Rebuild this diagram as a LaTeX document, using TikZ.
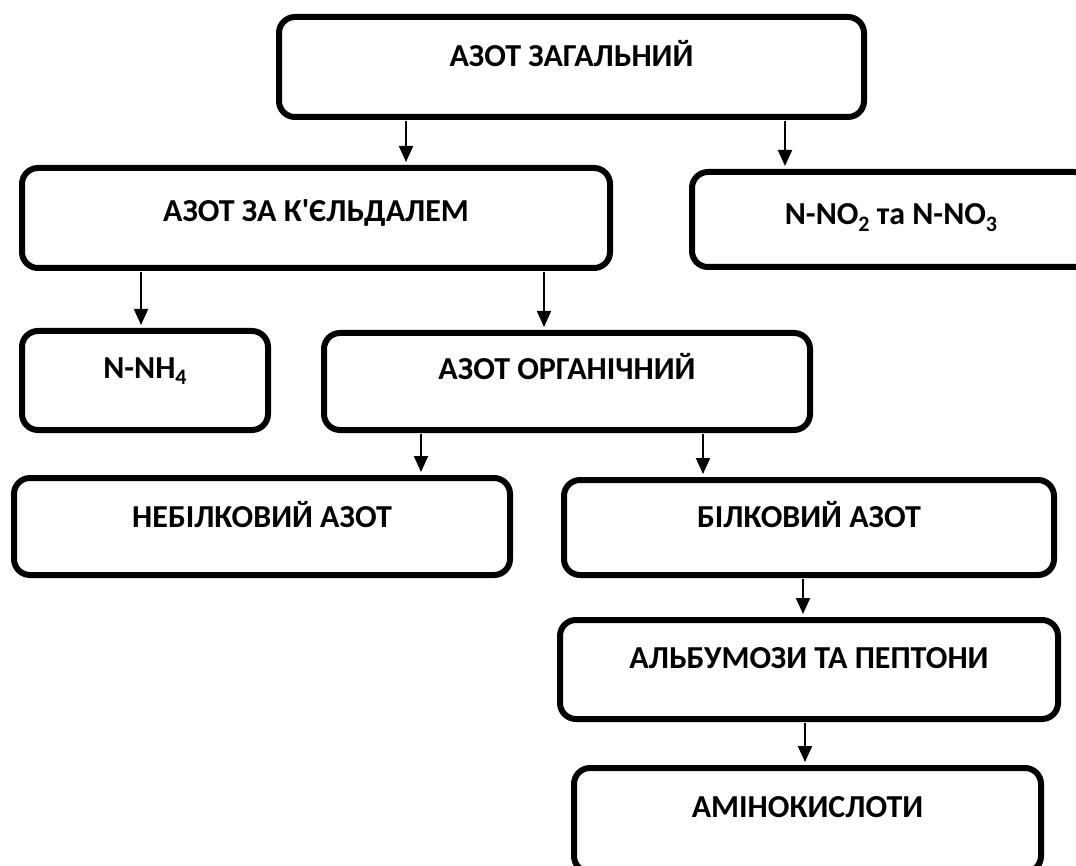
\documentclass[tikz,border=0pt]{standalone}
\usepackage{fontspec}
\setmainfont{Carlito}[Ligatures=TeXOff]
\usetikzlibrary{arrows.meta}
\newcommand\lowidx[1]{\raisebox{-0.2em}{\fontsize{22}{22}\selectfont #1}}
\tikzset{
  box/.style={draw, line width=6pt, rounded corners=16pt, inner sep=0pt,
    anchor=base, font=\fontsize{32}{38}\selectfont\bfseries, align=center},
  arr/.style={line width=2pt, -{Triangle[width=14pt,length=16pt]},
    shorten <=1pt, shorten >=3pt},
}
\begin{document}
\begin{tikzpicture}[x=1pt,y=-1pt]
\clip (0,0) rectangle (1076,866);
\fill[white] (0,0) rectangle (1076,866);

% boxes: anchored on the text baseline, height split into text height/depth
\node[box, minimum width=585, text height=50, text depth=50] (b1) at (571.5,67) {АЗОТ ЗАГАЛЬНИЙ};
\node[box, minimum width=588, text height=54, text depth=46] (b2) at (316,222) {АЗОТ ЗА К'ЄЛЬДАЛЕМ};
\node[box, minimum width=398, text height=53, text depth=42] (b3) at (891,225) {N-NO\lowidx{2} та N-NO\lowidx{3}};
\node[box, minimum width=246, text height=47, text depth=52] (b4) at (145,378) {N-NH\lowidx{4}};
\node[box, minimum width=486, text height=47, text depth=50] (b5) at (567,380) {АЗОТ ОРГАНІЧНИЙ};
\node[box, minimum width=496, text height=49, text depth=48] (b6) at (262,527) {НЕБІЛКОВИЙ АЗОТ};
\node[box, minimum width=490, text height=47, text depth=48] (b7) at (809,527) {БІЛКОВИЙ АЗОТ};
\node[box, minimum width=498, text height=48, text depth=51] (b8) at (809,668) {АЛЬБУМОЗИ ТА ПЕПТОНИ};
\node[box, minimum width=467, text height=49, text depth=55] (b9) at (807.5,817) {АМІНОКИСЛОТИ};

% x positions of the connectors
\coordinate (c1) at (406,0);
\coordinate (c2) at (785,0);
\coordinate (c3) at (141,0);
\coordinate (c4) at (544,0);
\coordinate (c5) at (421,0);
\coordinate (c6) at (703,0);
\coordinate (c7) at (803,0);
\coordinate (c8) at (805,0);

\draw[arr] (b1.south -| c1) -- (b2.north -| c1);
\draw[arr] (b1.south -| c2) -- (b3.north -| c2);
\draw[arr] (b2.south -| c3) -- (b4.north -| c3);
\draw[arr] (b2.south -| c4) -- (b5.north -| c4);
\draw[arr] (b5.south -| c5) -- (b6.north -| c5);
\draw[arr] (b5.south -| c6) -- (b7.north -| c6);
\draw[arr] (b7.south -| c7) -- (b8.north -| c7);
\draw[arr] (b8.south -| c8) -- (b9.north -| c8);
\end{tikzpicture}
\end{document}
